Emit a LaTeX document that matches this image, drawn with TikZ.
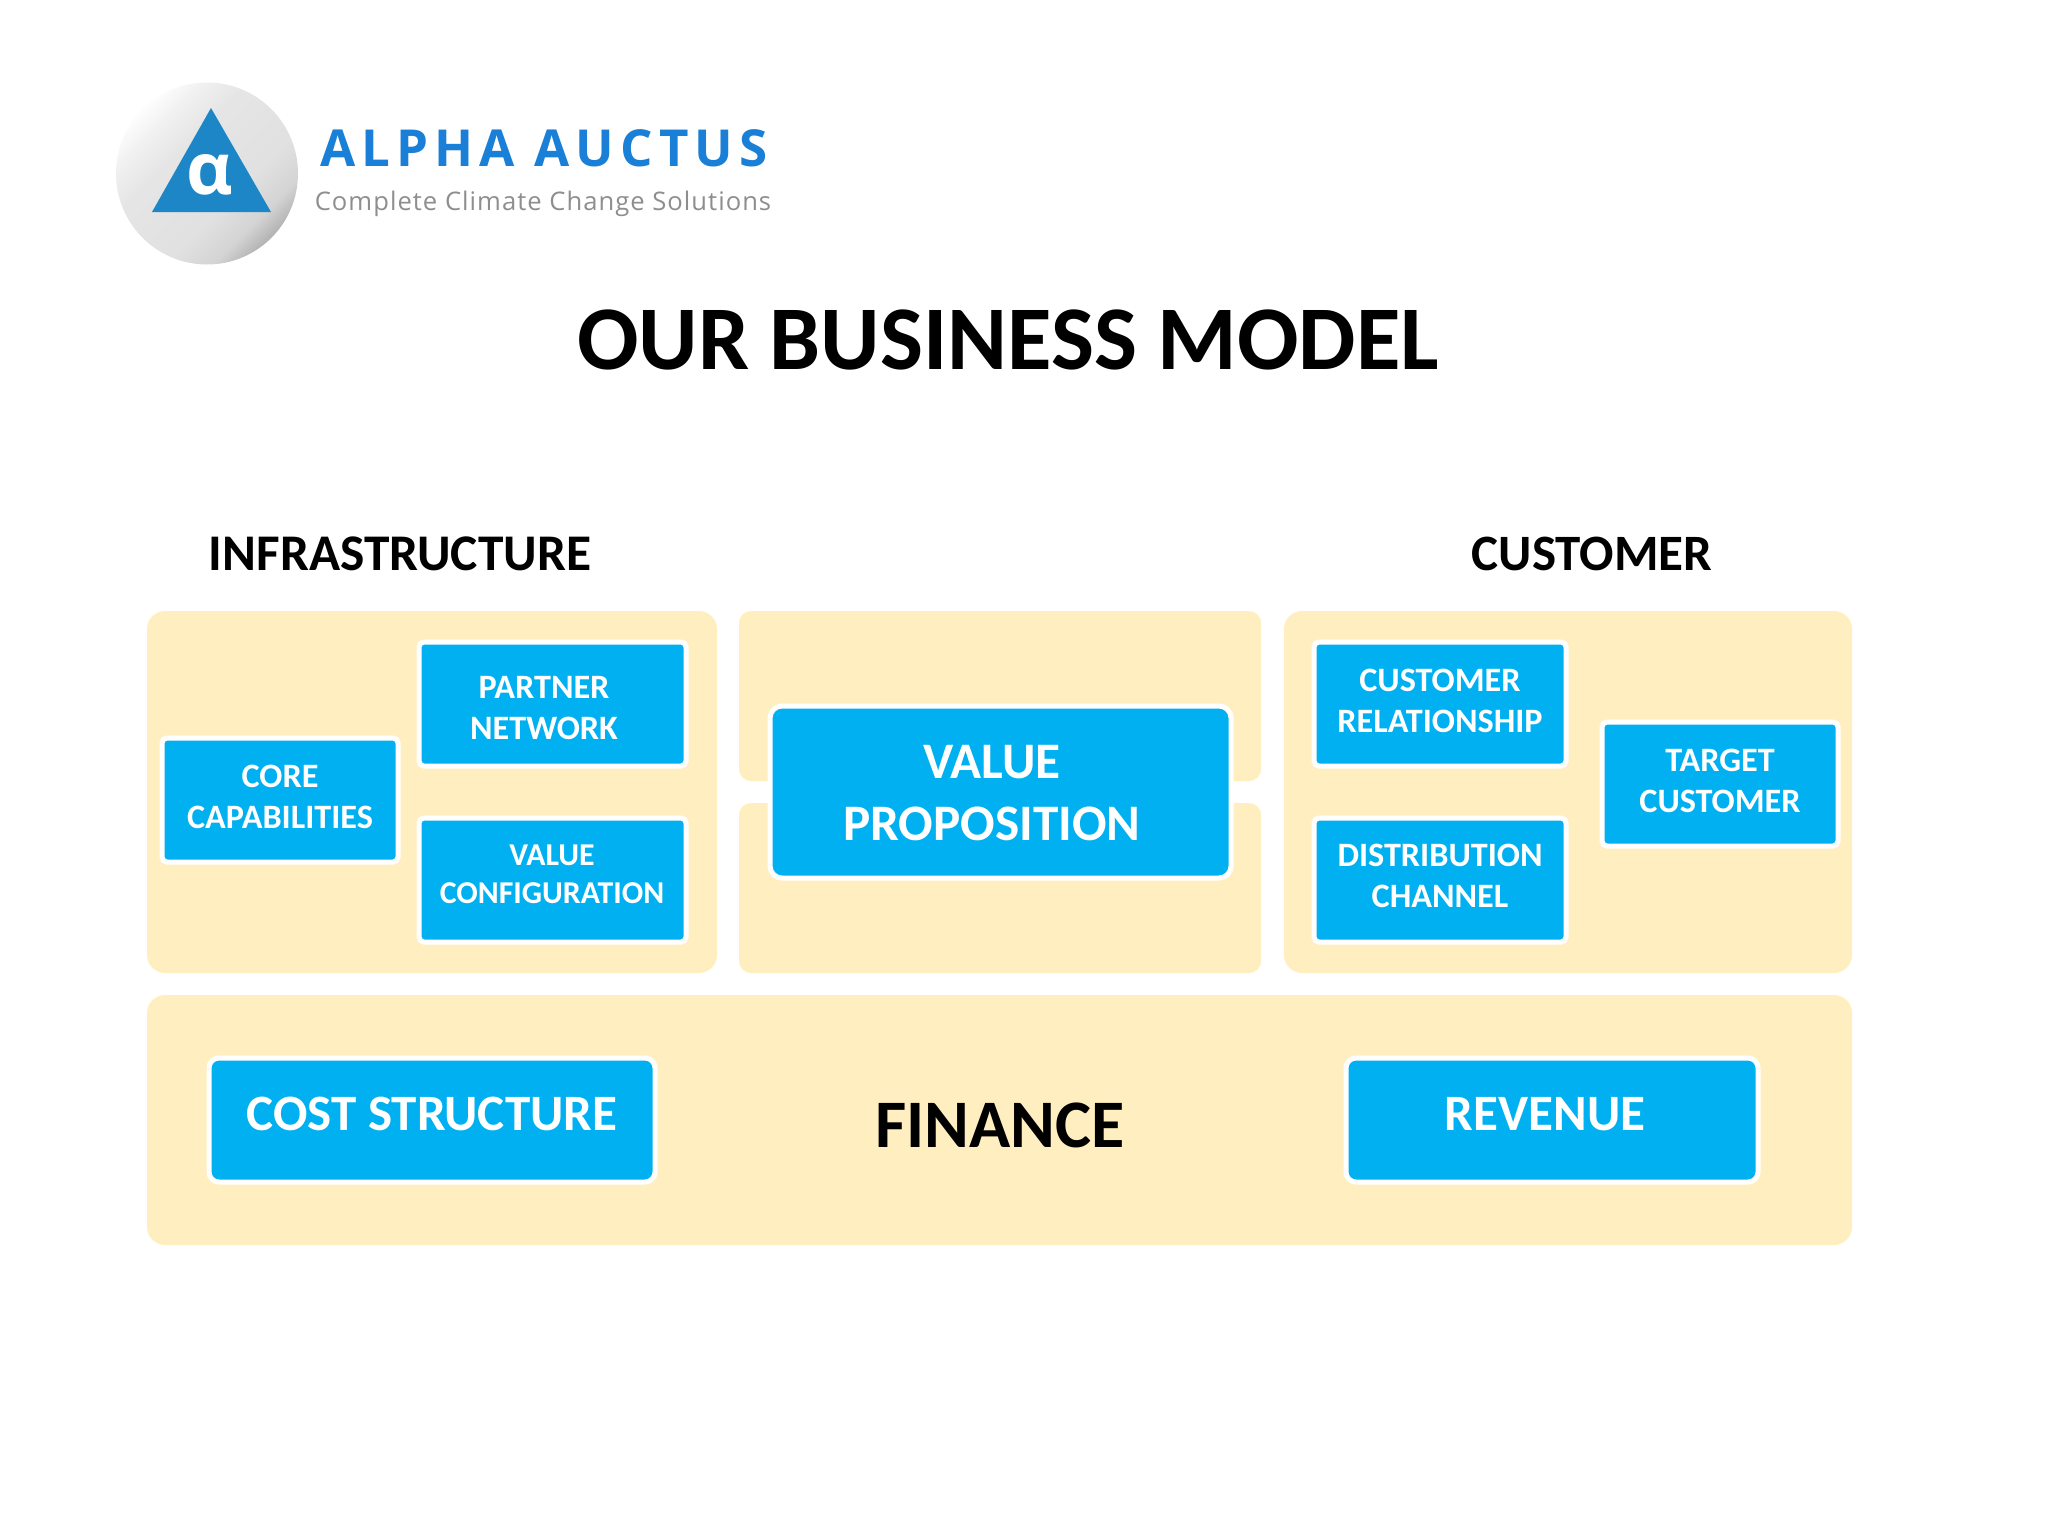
\documentclass[tikz,border=0pt]{standalone}
\usepackage{fontspec}
\setmainfont{Carlito}
\newfontfamily\logofont{Open Sans}
\definecolor{panel}{HTML}{FFEFC0}
\definecolor{boxblue}{HTML}{00B0F0}
\definecolor{logoblue}{HTML}{1A7FD6}
\definecolor{triblue}{HTML}{1C86C6}
\definecolor{logogrey}{HTML}{8E8E8E}
\pgfdeclareverticalshading{logoball}{100bp}{
  color(0bp)=(black!30); color(25bp)=(black!30); color(31bp)=(black!17); color(40bp)=(black!12);
  color(60bp)=(black!10); color(68bp)=(black!6); color(75bp)=(black!1); color(100bp)=(black!1)}
\tikzset{
  panelbox/.style={fill=panel,draw=none,inner sep=0pt,outer sep=0pt,rounded corners=9pt},
  bluebox/.style={fill=boxblue,draw=white,line width=2.5pt,inner sep=0pt,outer sep=0pt,rounded corners=2.5pt},
  lab/.style={inner sep=0pt,outer sep=0pt,align=center,font=\bfseries},
  whitelab/.style={lab,text=white}
}
% name, x0, y0, x1, y1, style
\newcommand\pxbox[6]{\node[#6,minimum width=(#4-#2)*0.5pt,minimum height=(#5-#3)*0.5pt] (#1) at ({(#2+#4)/2},{(#3+#5)/2}) {};}
\newcommand\blue[6][]{\pxbox{#2}{#3-2.5}{#4-2.5}{#5+2.5}{#6+2.5}{bluebox,#1}}
\begin{document}
\begin{tikzpicture}[x=0.5pt,y=-0.5pt]
\useasboundingbox (0,0) rectangle (2048,1536);
\fill[white] (0,0) rectangle (2048,1536);
% logo
\shade[shading=logoball,shading angle=45] (207,173.5) circle [radius=91];
\fill[triblue] (211,108) -- (271,212) -- (152,212) -- cycle;
\node[lab,text=white,font=\logofont\bfseries\fontsize{36}{36}\selectfont] (alpha) at (210,175) {α};
\node[inner sep=0pt,text=logoblue,font=\logofont\bfseries\fontsize{25.5}{25.5}\selectfont,anchor=center] (brand) at (544,148) {\addfontfeature{LetterSpace=12}ALPHA AUCTUS};
\node[inner sep=0pt,text=logogrey,font=\logofont\fontsize{12.8}{12.8}\selectfont,anchor=center] (tagline) at (543,204) {\addfontfeature{LetterSpace=4}Complete Climate Change Solutions};
% title and headings
\node[lab,font=\bfseries\fontsize{45.5}{45.5}\selectfont] (title) at (1008,340) {OUR BUSINESS MODEL};
\node[lab,font=\bfseries\fontsize{25.7}{25.7}\selectfont] (infra) at (400,554) {INFRASTRUCTURE};
\node[lab,font=\bfseries\fontsize{25.5}{25.5}\selectfont] (cust) at (1592,554) {CUSTOMER};
% panels
\pxbox{pleft}{147}{611}{717}{973}{panelbox}
\pxbox{pmidtop}{739}{611}{1261}{781}{panelbox,rounded corners=6pt}
\pxbox{pmidbot}{739}{803}{1261}{973}{panelbox,rounded corners=6pt}
\pxbox{pright}{1284}{611}{1852}{973}{panelbox}
\pxbox{pfin}{147}{995}{1852}{1245}{panelbox}
% boxes
\blue{partner}{419}{642}{686}{766}
\blue{core}{162}{738}{398}{862}
\blue{config}{419}{818}{686}{942}
\blue[rounded corners=6pt]{vprop}{770}{706}{1231}{878}
\blue{rel}{1314}{642}{1566}{766}
\blue{dist}{1314}{818}{1566}{942}
\blue{target}{1602}{722}{1838}{846}
\blue[rounded corners=5pt]{cost}{209}{1058}{655}{1182}
\blue[rounded corners=5pt]{rev}{1346}{1058}{1758}{1182}
% labels
\tikzset{small/.style={whitelab,font=\bfseries\fontsize{17.1}{20.5}\selectfont}}
\node[small] (tpartner) at (544,708) {PARTNER\\NETWORK};
\node[small] (tcore) at (280,797) {CORE\\CAPABILITIES};
\node[small,font=\bfseries\fontsize{15.9}{19}\selectfont] (tconfig) at (552,874) {VALUE\\CONFIGURATION};
\node[small] (trel) at (1440,701) {CUSTOMER\\RELATIONSHIP};
\node[small] (tdist) at (1440,876) {DISTRIBUTION\\CHANNEL};
\node[small] (ttarget) at (1720,781) {TARGET\\CUSTOMER};
\node[whitelab,font=\bfseries\fontsize{25.6}{31}\selectfont] (tvprop) at (992,793) {VALUE\\PROPOSITION};
\node[whitelab,font=\bfseries\fontsize{25.5}{25.5}\selectfont] (tcost) at (432,1114) {COST STRUCTURE};
\node[whitelab,font=\bfseries\fontsize{25.5}{25.5}\selectfont] (trev) at (1545,1114) {REVENUE};
\node[lab,font=\bfseries\fontsize{34}{34}\selectfont] (tfin) at (1000,1125) {FINANCE};
\end{tikzpicture}
\end{document}
